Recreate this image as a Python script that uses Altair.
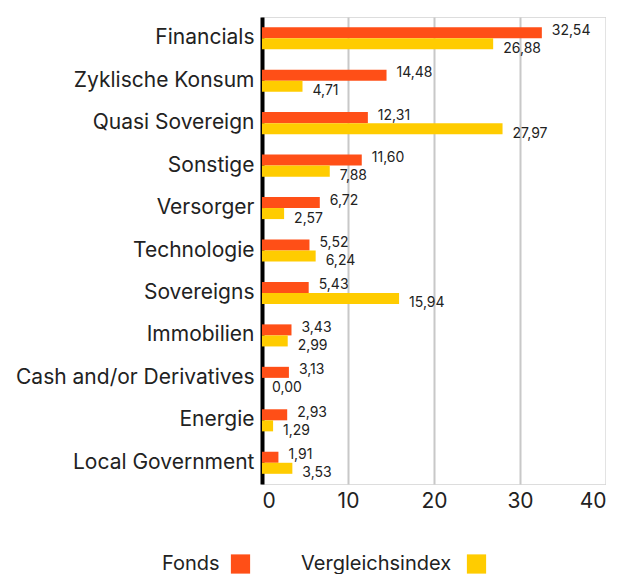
import altair as alt
import pandas as pd

categories = ["Financials", "Zyklische Konsum", "Quasi Sovereign", "Sonstige", "Versorger",
              "Technologie", "Sovereigns", "Immobilien", "Cash and/or Derivatives", "Energie",
              "Local Government"]
fonds = [32.54, 14.48, 12.31, 11.60, 6.72, 5.52, 5.43, 3.43, 3.13, 2.93, 1.91]
index = [26.88, 4.71, 27.97, 7.88, 2.57, 6.24, 15.94, 2.99, 0.00, 1.29, 3.53]
series = ["Fonds", "Vergleichsindex"]
colors = ["#ff4f17", "#ffcc00"]
x_ticks = [0, 10, 20, 30, 40]

rows = []
for c, f, v in zip(categories, fonds, index):
    rows.append({"cat": c, "series": series[0], "value": f,
                 "label": f"{f:.2f}".replace(".", ",")})
    rows.append({"cat": c, "series": series[1], "value": v,
                 "label": f"{v:.2f}".replace(".", ",")})
df = pd.DataFrame(rows)

FONT = "Inter"

y_enc = alt.Y("cat:N", sort=categories,
              scale=alt.Scale(paddingInner=0.48, paddingOuter=0.24),
              axis=alt.Axis(title=None, domainColor="black", domainWidth=4, ticks=False,
                            labelFontSize=21, labelColor="#222", labelFont=FONT,
                            labelPadding=8, labelLimit=400, grid=False))
x_enc = alt.X("value:Q", scale=alt.Scale(domain=[0, 40]),
              axis=alt.Axis(title=None, values=x_ticks, ticks=False, domain=False,
                            grid=True, gridColor="#c8c8c8", gridWidth=2,
                            labelFontSize=21, labelColor="#222", labelFont=FONT,
                            labelPadding=6))

base = alt.Chart(df)
bars = base.mark_bar().encode(
    x=x_enc, y=y_enc,
    yOffset=alt.YOffset("series:N", sort=series),
    color=alt.Color("series:N", scale=alt.Scale(domain=series, range=colors), legend=None),
)

lab_f = base.transform_filter(alt.datum.series == "Fonds").mark_text(
    align="left", baseline="middle", dx=10, dy=-2, fontSize=14, font=FONT, color="#222"
).encode(x="value:Q", y=alt.Y("cat:N", sort=categories),
         yOffset=alt.YOffset("series:N", sort=series), text="label:N")
lab_v = base.transform_filter(alt.datum.series == "Vergleichsindex").mark_text(
    align="left", baseline="middle", dx=10, dy=5, fontSize=14, font=FONT, color="#222"
).encode(x="value:Q", y=alt.Y("cat:N", sort=categories),
         yOffset=alt.YOffset("series:N", sort=series), text="label:N")

leg_df = pd.DataFrame({"series": series, "tx": [-100, 39], "sx": [-21.5, 214.5]})
leg_text = alt.Chart(leg_df).mark_text(
    align="left", baseline="middle", fontSize=20, font=FONT, color="#222"
).encode(x=alt.X("tx:Q", scale=None), y=alt.value(547), text="series:N")
leg_sq = alt.Chart(leg_df).mark_square(size=370, opacity=1).encode(
    x=alt.X("sx:Q", scale=None), y=alt.value(547),
    color=alt.Color("series:N", scale=alt.Scale(domain=series, range=colors), legend=None))

chart = alt.layer(bars, lab_f, lab_v, leg_text, leg_sq).properties(
    width=344, height=467, padding={"left": 7, "top": 9, "right": 0, "bottom": 0}
).configure_view(stroke=None).configure(font=FONT)

chart.save("out.html", embed_options={"renderer": "svg", "actions": False})
